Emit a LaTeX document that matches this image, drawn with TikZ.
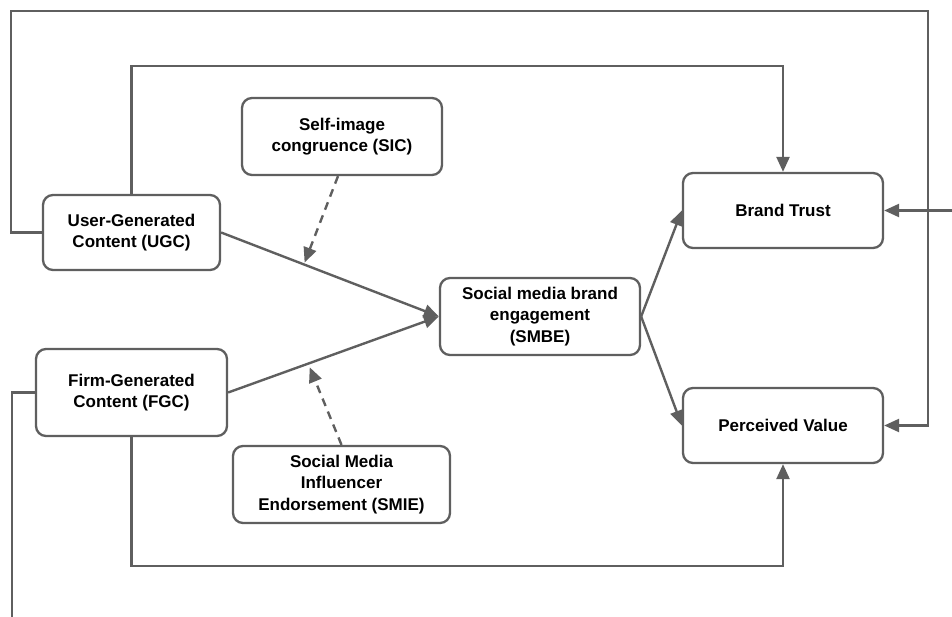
\documentclass[tikz,border=0pt]{standalone}
\usepackage{fontspec}
\setmainfont{Liberation Sans}
\usetikzlibrary{arrows.meta}
\definecolor{linegray}{RGB}{95,95,95}
\tikzset{box/.style = {shape=rectangle,rounded corners=10pt,draw=linegray,line width=2.3pt,fill=white,align=center,inner sep=2pt,font=\bfseries\fontsize{17}{21.5}\selectfont}}
\tikzset{edge/.style = {draw=linegray,line width=2.4pt,-{Triangle[length=15pt,width=13pt]}}}
\tikzset{dedge/.style = {edge,dash pattern=on 8pt off 6pt}}

\begin{document}
\begin{tikzpicture}[x=1pt,y=-1pt]
        \useasboundingbox (0,0) rectangle (952,617);

        \node[box,minimum width=177pt,minimum height=75pt] (ugc) at (131.5,232.5) {User-Generated\\Content (UGC)};
        \node[box,minimum width=191pt,minimum height=87pt] (fgc) at (131.5,392.5) {Firm-Generated\\Content (FGC)};
        \node[box,minimum width=200pt,minimum height=77pt] (sic) at (342,136.5) {Self-image\\congruence (SIC)};
        \node[box,minimum width=217pt,minimum height=77pt] (smie) at (341.5,484.5) {Social Media\\Influencer\\Endorsement (SMIE)};
        \node[box,minimum width=200pt,minimum height=77pt] (smbe) at (540,316.5) {Social media brand\\engagement\\(SMBE)};
        \node[box,minimum width=200pt,minimum height=75pt] (trust) at (783,210.5) {Brand Trust};
        \node[box,minimum width=200pt,minimum height=75pt] (value) at (783,425.5) {Perceived Value};

        \coordinate (tl) at (11,11);
        \coordinate (tr) at (928,11);
        \coordinate (ujoin) at (783,66);
        \coordinate (fjoin) at (783,566);
        \coordinate (fend) at (12,620);
        \coordinate (tin) at (955,210.5);

        \draw[edge] (ugc.west) -| (tl) -- (tr) |- (value.east);
        \draw[edge] (ugc.north) |- (ujoin) -- (trust.north);
        \draw[edge] (fgc.south) |- (fjoin) -- (value.south);
        \draw[edge,-] (fgc.west) -| (fend);
        \draw[edge] (tin) -- (trust.east);

        \draw[edge] (ugc.east) -- coordinate[pos=0.38] (sicm) (smbe.west);
        \draw[edge] (fgc.east) -- coordinate[pos=0.38] (smiem) (smbe.west);
        \draw[dedge,shorten >=2pt] ([xshift=-4pt]sic.south) -- (sicm);
        \draw[dedge,shorten >=4pt] (smie.north) -- (smiem);

        \draw[edge] (smbe.east) -- (trust.west);
        \draw[edge] (smbe.east) -- (value.west);
      \end{tikzpicture}
\end{document}
